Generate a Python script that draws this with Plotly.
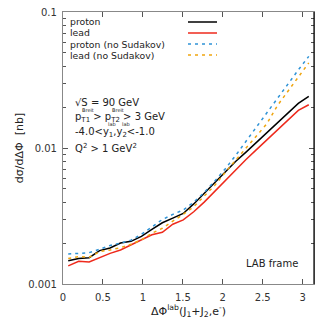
import math
import plotly.graph_objects as go

# bin centres of delta phi (24 bins over [0, pi])
dphi = [(i + 0.5) * math.pi / 24 for i in range(24)]

proton = [0.00148, 0.00154, 0.00156, 0.00176, 0.00184, 0.00200, 0.00206, 0.00224,
          0.00252, 0.00282, 0.00305, 0.00330, 0.00388, 0.00465, 0.00556, 0.00665,
          0.00796, 0.00933, 0.0110, 0.0130, 0.0153, 0.0180, 0.0213, 0.0240]
lead = [0.00136, 0.00147, 0.00145, 0.00157, 0.00168, 0.00178, 0.00194, 0.00211,
        0.00230, 0.00240, 0.00275, 0.00296, 0.00340, 0.00400, 0.00480, 0.00580,
        0.00690, 0.00824, 0.00973, 0.0115, 0.01355, 0.0160, 0.0189, 0.0208]
proton_nosud = [0.00166, 0.00168, 0.00170, 0.00180, 0.00192, 0.00200, 0.00210, 0.00232,
                0.00262, 0.00298, 0.00325, 0.00350, 0.00400, 0.00470, 0.00570, 0.00700,
                0.00880, 0.01120, 0.01456, 0.0185, 0.0235, 0.0296, 0.0375, 0.0472]
lead_nosud = [0.00154, 0.00159, 0.00157, 0.00173, 0.00178, 0.00185, 0.00196, 0.00211,
              0.00236, 0.00257, 0.00290, 0.00325, 0.00370, 0.00440, 0.00530, 0.00660,
              0.00810, 0.0101, 0.0124, 0.0151, 0.0205, 0.0260, 0.0335, 0.0423]

names = ["proton", "lead", "proton (no Sudakov)", "lead (no Sudakov)"]
series = [proton, lead, proton_nosud, lead_nosud]
colors = ["#000000", "#ee2a1c", "#2f93d6", "#efa50f"]
dashes = ["solid", "solid", "3px,4px", "3px,4px"]

x_ticks = [0, 0.5, 1, 1.5, 2, 2.5, 3]
y_ticks = [0.001, 0.01, 0.1]
y_ticktext = ["0.001", "0.01", "0.1"]
y_minor = [m * 10.0 ** e for e in (-3, -2) for m in range(2, 10)]

FONT = "DejaVu Sans"
OFF = 8  # default page body margin
fig = go.Figure()
for n, s, c, d in zip(names, series, colors, dashes):
    fig.add_trace(go.Scatter(x=dphi, y=s, mode="lines", name=n,
                             line=dict(color=c, width=1.5, dash=d),
                             showlegend=False))

# plot frame in page pixels
L, R, T, B = 63, 314, 12, 284
def px(x):
    return (x - L) / (R - L)
def py(y):
    return (B - y) / (B - T)

ann = []
shapes = []
# manual legend (text left, sample right)
for i, (n, c, d) in enumerate(zip(names, colors, dashes)):
    yy = 22 + 11 * i
    ann.append(dict(x=px(68), y=py(yy), xref="paper", yref="paper", text=n,
                    showarrow=False, xanchor="left", yanchor="middle",
                    font=dict(size=9.3, color="#222", family=FONT)))
    shapes.append(dict(type="line", xref="paper", yref="paper",
                       x0=px(188), x1=px(217), y0=py(yy), y1=py(yy),
                       line=dict(color=c, width=1.5, dash=d)))

def txt(x, y, t, size=10, anchor="left", yanchor="middle"):
    ann.append(dict(x=px(x), y=py(y), xref="paper", yref="paper", text=t,
                    showarrow=False, xanchor=anchor, yanchor=yanchor,
                    font=dict(size=size, color="#222", family=FONT)))

txt(73, 102, "√S = 90 GeV")
txt(73, 118, "p<sub>T1</sub> > p<sub>T2</sub> > 3 GeV")
txt(79.5, 110, "Breit", size=5)
txt(109.5, 110, "Breit", size=5)
txt(73, 132, "-4.0<y<sub>1</sub>,y<sub>2</sub><-1.0")
txt(106, 124, "lab", size=5)
txt(119.5, 124, "lab", size=5)
txt(73, 148, "Q<sup>2</sup> > 1 GeV<sup>2</sup>")
txt(300, 263, "LAB frame", anchor="right")

# right border drawn darker
shapes.append(dict(type="line", xref="paper", yref="paper", x0=1, x1=1, y0=0, y1=1,
                   line=dict(color="#000", width=1.2)))

fig.update_layout(
    width=332, height=332,
    margin=dict(l=L - OFF, r=332 - (R - OFF), t=T - OFF, b=332 - (B - OFF), autoexpand=False),
    paper_bgcolor="white", plot_bgcolor="white",
    annotations=ann, shapes=shapes,
    font=dict(family=FONT, size=10, color="#333"),
    xaxis=dict(range=[0, math.pi], tickvals=x_ticks, ticktext=[str(v) for v in x_ticks],
               ticks="inside", ticklen=5, tickcolor="#555", showline=True,
               linecolor="#888", linewidth=1.2, mirror="ticks", showgrid=False,
               zeroline=False, tickfont=dict(size=10, color="#333"), automargin=False,
               ticklabelstandoff=4, ticklabeloverflow="allow",
               title=dict(text="ΔΦ<sup>lab</sup>(J<sub>1</sub>+J<sub>2</sub>,e<sup>-</sup>)",
                          font=dict(size=11, color="#222"), standoff=2)),
    yaxis=dict(type="log", range=[-3, -1], tickvals=y_ticks, ticktext=y_ticktext,
               ticks="inside", ticklen=5, tickcolor="#555", showline=True,
               linecolor="#888", linewidth=1.2, mirror="ticks", showgrid=False,
               zeroline=False, tickfont=dict(size=10, color="#333"), automargin=False,
               ticklabelstandoff=3, ticklabeloverflow="allow",
               minor=dict(tickvals=y_minor, ticks="inside", ticklen=3,
                          tickcolor="#555", showgrid=False),
               title=dict(text="dσ/dΔΦ  [nb]", font=dict(size=11, color="#222"),
                          standoff=2)),
)

fig.write_html("out.html")
